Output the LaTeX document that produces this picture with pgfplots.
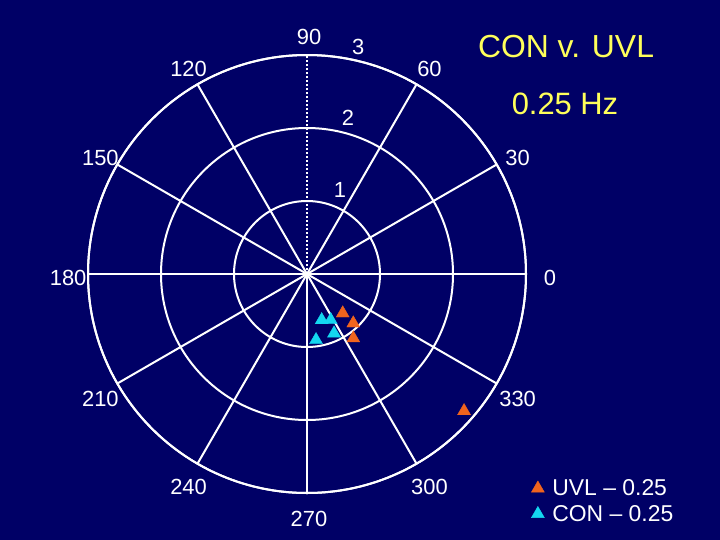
\documentclass[border=0pt]{standalone}
\usepackage{fontspec}
\setmainfont{Liberation Sans}
\usepackage{pgfplots}
\pgfplotsset{compat=1.18}
\usepgfplotslibrary{polar}

\definecolor{navybg}{RGB}{0,0,102}
\definecolor{uvl}{RGB}{240,100,30}
\definecolor{con}{RGB}{20,215,240}
\definecolor{ttl}{RGB}{255,255,90}

\begin{document}
\begin{tikzpicture}[x=1bp,y=1bp]
\fill[navybg] (0,0) rectangle (720,-540);
\path[use as bounding box] (0,0) rectangle (720,-540);
\begin{polaraxis}[
    at={(307bp,-274bp)}, anchor=center,
    width=438bp, height=438bp, scale only axis,
    xmin=0, xmax=360, ymin=0, ymax=3,
    xtick={0,30,...,330}, ytick={1,2,3},
    xticklabels=\empty, yticklabels=\empty,
    major tick length=0pt,
    xmajorgrids=false, ymajorgrids=true,
    major grid style={white, line width=2bp},
    axis line style={white, line width=2bp},
    clip=false,
    font=\fontsize{22}{26}\selectfont,
    legend style={draw=none, fill=none, text=white,
        font=\fontsize{23}{27}\selectfont,
        at={(axis description cs:1.005,0.04)}, anchor=north west,
        row sep=4bp,
        cells={anchor=west}},
  ]
  % spokes
  \pgfplotsinvokeforeach{30,60,120,150,180,210,240,270,300,330}{
    \draw[white, line width=2bp] (axis cs:#1,0) -- (axis cs:#1,3);
  }
  \draw[white, line width=2bp, dotted] (axis cs:0,0) -- (axis cs:0,3);
  \draw[white, line width=2bp, dotted] (axis cs:90,0) -- (axis cs:90,3);
  % angle labels
  \pgfplotsinvokeforeach{0,30,60,90,120,150,180,210,240,270,300,330}{
    \node[white, xshift=2bp, yshift=-4bp] at (axis cs:#1,3.3) {#1};
  }
  % radius labels
  \node[white] at (axis cs:68.6,1.236) {1};
  \node[white] at (axis cs:75.3,2.21) {2};
  \node[white] at (axis cs:77.3,3.19) {3};

  \addplot[only marks, mark=triangle*, mark size=7.5bp, color=uvl]
    coordinates {(312.3,0.727) (313.2,0.926) (305.8,1.085) (318.9,2.855)};
  \addlegendentry{\hspace{6bp}UVL – 0.25}
  \addplot[only marks, mark=triangle*, mark size=7.5bp, color=con]
    coordinates {(287.7,0.662) (297.3,0.709) (294.5,0.893) (277.8,0.912)};
  \addlegendentry{\hspace{6bp}CON – 0.25}
\end{polaraxis}
\node[ttl, font=\fontsize{32}{38}\selectfont] at (566,-47) {CON v. UVL};
\node[ttl, font=\fontsize{31}{37}\selectfont] at (565,-104) {0.25 Hz};
\end{tikzpicture}
\end{document}
